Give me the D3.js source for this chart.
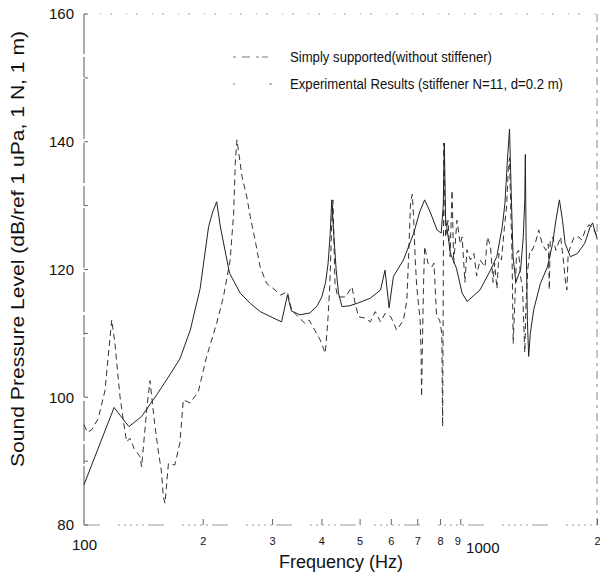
<!DOCTYPE html>
<html><head><meta charset="utf-8">
<script src="https://cdn.jsdelivr.net/npm/d3@7"></script>
<style>
html,body{margin:0;padding:0;background:#fff;}
svg{display:block;font-family:"Liberation Sans",Arial,sans-serif;}
</style></head>
<body>
<script>
// ---------- DATA ----------
const legendLabels = ["Simply supported(without stiffener)", "Experimental Results (stiffener N=11, d=0.2 m)"];
const yTicks = [80, 100, 120, 140, 160];
const yMinorTicks = [90, 110, 130, 150];
const xMajorTicks = [100, 1000];
const xMinorTicks = [200, 300, 400, 500, 600, 700, 800, 900, 2000];
const xMinorLabels = ["2", "3", "4", "5", "6", "7", "8", "9", "2"];

// smooth solid curve
const solidFreq = [100,119.2,130,140,153,165,175,186,197,207,212,217,222,234,249,264,280,300,317,328,336,353,374,390,401,410,416,421,425,430,436,442,451,470,493,532,565,580,594,609,646,686,710,731,755,786,805,815,820,826,850,880,910,937,1010,1074,1114,1150,1168,1185,1200,1212,1225,1245,1280,1300,1312,1316,1322,1332,1342,1355,1382,1437,1497,1544,1573,1606,1635,1660,1712,1783,1862,1922,1950,1975,2000];
const solidLevel = [86.3,98.4,95.4,97,100.4,103.5,106,110.5,117,126.7,129,130.6,126.5,119.4,116.3,114.7,113.4,112.5,111.8,116,113.5,112.9,113.2,114.3,115.7,118,121,125.5,130.9,125.5,120,116.3,114.2,114.3,114.7,115.5,116.8,119.9,114,118.9,121.5,125.7,129,130.9,129,126.2,125.7,130,139.8,128,122.5,120.2,116.3,115,116.8,119.9,122,126.7,130.3,137,142,132,122,118,120,125,131,138,125,112,106.4,110,113.7,117.8,120.4,124.1,127.7,130.9,127.7,124.1,122,122.5,124.1,126.7,127.3,126,124.9];

// noisy dashed curve
const dashedFreq = [100,102,104.6,108.7,113,117.6,119.8,123.4,125.8,128.3,130.8,134,138.7,140,144.2,147,151,154.2,157,159,160.5,163.7,170,175,178.6,185.9,195,204.5,217,225.7,234.8,239.6,241.9,244.3,251.7,258.7,264,271.6,279.7,290.6,305,315,328,336,349,363,372,385,397,409,415,420,425,428,433,440,451,461,478,487,497,517,532,548,565,580,600,621,646,659,666,673,680,686,692,698,712,716,718,722,726,731,745,762,772,784,798,808,812,818,826,838,848,858,866,883,900,910,925,936,955,975,990,1010,1040,1055,1074,1090,1100,1115,1128,1145,1165,1180,1192,1200,1208,1218,1226,1238,1250,1265,1280,1295,1305,1312,1320,1335,1352,1369,1395,1423,1451,1483,1505,1514,1522,1544,1573,1617,1640,1666,1678,1690,1749,1800,1830,1869,1908,1940,1985,2000];
const dashedLevel = [95.7,94.5,94.9,96.7,101,112.1,108.4,100.1,96.4,93,93.6,92,90.7,89.1,98,102.6,96,91.7,88.6,84.4,83.4,89.6,89.4,92.8,99.6,99.1,100.9,106.3,111.6,115.7,121.5,128.8,136.6,140.3,134.5,131.4,128.3,124.6,120.4,117.8,116.8,116,116.5,113.7,112.6,111.6,112.1,110.5,109,106.9,111.6,117.3,127.2,130.9,117.8,115.7,115.7,115.7,117.3,114.7,112.6,112.4,111.8,113.4,111.8,113.1,112.6,110.5,112.1,115.2,122.5,130.3,131.8,127.7,121.5,117.3,112.1,106.9,100.1,109,117.3,123.6,121,120.4,121,112.6,112.1,110,95.4,139.8,125,127.7,122,132.4,121,127.7,124,125.1,118,123.1,121.5,122.5,119,121.5,120.4,125.1,123.6,118,121,117,122.5,121.5,126.7,130,136,137.5,130,122,108.4,115,122.5,123,118.9,117,111,107,114,120,123,123,124.1,126.2,124.1,123,124,116.8,124.6,125.1,123,125.1,122,117.8,116.8,122.5,125.1,125.1,124.6,126.2,127,126.7,125.7,125];

// ---------- CHART ----------
const W = 600, H = 576;
const svg = d3.select("body").append("svg").attr("width", W).attr("height", H);

const x = d3.scaleLog().domain([100, 2000]).range([84, 597]);
const y = d3.scaleLinear().domain([80, 160]).range([525, 14]);

// frame (scanned-looking broken axis lines)
const frame = svg.append("g").attr("fill", "none").attr("stroke", "#555").attr("stroke-width", 1);
frame.append("line").attr("x1", x(100)).attr("x2", x(100)).attr("y1", y(160)).attr("y2", y(80))
  .attr("stroke-dasharray", "40,3,20,2,60,4");
frame.append("line").attr("x1", x(100)).attr("x2", x(2000)).attr("y1", y(80)).attr("y2", y(80))
  .attr("stroke", "#999").attr("stroke-dasharray", "16,18,2,4,2,4,2,4,2,4,2,4");
frame.append("line").attr("x1", x(100)).attr("x2", x(2000)).attr("y1", y(160)).attr("y2", y(160))
  .attr("stroke", "#999").attr("stroke-dasharray", "2,14,1,9");
frame.append("line").attr("x1", x(2000)).attr("x2", x(2000)).attr("y1", y(160)).attr("y2", y(80))
  .attr("stroke", "#888").attr("stroke-dasharray", "8,5,3,5");

// y axis
const yAxis = d3.axisLeft(y).tickValues(yTicks).tickSize(0).tickPadding(10);
const gy = svg.append("g").attr("transform", `translate(${x(100)},0)`).call(yAxis);
gy.select(".domain").remove();
gy.selectAll("text").attr("font-size", 15).attr("fill", "#111")
  .attr("font-family", "Liberation Sans, Arial, sans-serif");
svg.append("g").selectAll("line").data(yMinorTicks.concat(yTicks)).join("line")
  .attr("x1", x(100)).attr("x2", x(100) + 4).attr("y1", d => y(d)).attr("y2", d => y(d))
  .attr("stroke", "#666");

// x axis major labels
const xAxisMajor = d3.axisBottom(x).tickValues(xMajorTicks).tickSize(0).tickPadding(14)
  .tickFormat(d3.format("d"));
const gxM = svg.append("g").attr("transform", `translate(0,${y(80)})`).call(xAxisMajor);
gxM.select(".domain").remove();
gxM.selectAll("text").attr("font-size", 15).attr("fill", "#111")
  .attr("font-family", "Liberation Sans, Arial, sans-serif")
  .attr("dx", d => d === 1000 ? 4 : 0).attr("dy", d => d === 1000 ? "0.95em" : "0.71em");

// x axis minor ticks + small labels
const xAxisMinor = d3.axisBottom(x).tickValues(xMinorTicks).tickSize(-6).tickPadding(12)
  .tickFormat((d, i) => xMinorLabels[i]);
const gxm = svg.append("g").attr("transform", `translate(0,${y(80)})`).call(xAxisMinor);
gxm.select(".domain").remove();
gxm.selectAll("line").attr("stroke", "#666");
gxm.selectAll("text").attr("font-size", 11).attr("fill", "#111")
  .attr("font-family", "Liberation Sans, Arial, sans-serif")
  .attr("dx", (d) => d === 900 ? -3 : 0);

// series
const line = d3.line().x(d => x(d[0])).y(d => y(d[1]));
const solidData = solidFreq.map((f, i) => [f, solidLevel[i]]);
const dashedData = dashedFreq.map((f, i) => [f, dashedLevel[i]]);

svg.append("path").datum(dashedData).attr("d", line)
  .attr("fill", "none").attr("stroke", "#333").attr("stroke-width", 1)
  .attr("stroke-dasharray", "6,4");
svg.append("path").datum(solidData).attr("d", line)
  .attr("fill", "none").attr("stroke", "#222").attr("stroke-width", 1);

// legend
const leg = svg.append("g");
leg.append("line").attr("x1", 233).attr("x2", 272).attr("y1", 57).attr("y2", 57)
  .attr("stroke", "#777").attr("stroke-dasharray", "3,6,8,6,3");
leg.append("line").attr("x1", 233).attr("x2", 272).attr("y1", 84).attr("y2", 84)
  .attr("stroke", "#777").attr("stroke-dasharray", "2,34,3");
leg.selectAll("text").data(legendLabels).join("text")
  .attr("x", 290).attr("y", (d, i) => 62 + i * 27)
  .attr("font-size", 14).attr("fill", "#111")
  .attr("textLength", (d, i) => i === 0 ? 202 : 273).attr("lengthAdjust", "spacingAndGlyphs")
  .text(d => d);

// axis titles
svg.append("text").attr("x", 341).attr("y", 568).attr("text-anchor", "middle")
  .attr("font-size", 18).attr("fill", "#111").text("Frequency (Hz)");
svg.append("text").attr("transform", "translate(24,249) rotate(-90)").attr("text-anchor", "middle")
  .attr("font-size", 18.5).attr("fill", "#111")
  .attr("textLength", 436).attr("lengthAdjust", "spacingAndGlyphs")
  .text("Sound Pressure Level (dB/ref 1 uPa, 1 N, 1 m)");
</script>
</body></html>
